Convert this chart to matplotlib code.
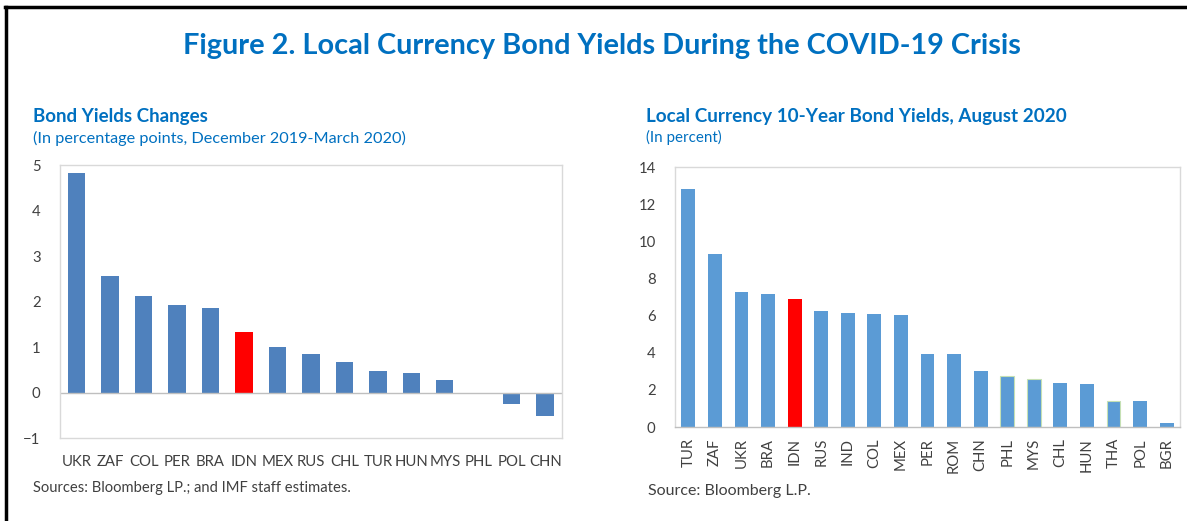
import matplotlib
matplotlib.use("Agg")
import matplotlib.pyplot as plt
from matplotlib.lines import Line2D

plt.rcParams['font.family'] = ['Lato', 'DejaVu Sans']

# Panel 1: change in yields, Dec 2019 - Mar 2020 (percentage points)
chg_countries = ['UKR', 'ZAF', 'COL', 'PER', 'BRA', 'IDN', 'MEX', 'RUS',
                 'CHL', 'TUR', 'HUN', 'MYS', 'PHL', 'POL', 'CHN']
chg_values = [4.83, 2.57, 2.12, 1.93, 1.85, 1.33, 0.99, 0.85,
              0.68, 0.47, 0.42, 0.28, -0.02, -0.26, -0.51]

# Panel 2: 10-year yields, August 2020 (percent)
lvl_countries = ['TUR', 'ZAF', 'UKR', 'BRA', 'IDN', 'RUS', 'IND', 'COL', 'MEX',
                 'PER', 'ROM', 'CHN', 'PHL', 'MYS', 'CHL', 'HUN', 'THA', 'POL', 'BGR']
lvl_values = [12.83, 9.30, 7.25, 7.16, 6.88, 6.27, 6.13, 6.09, 6.04,
              3.95, 3.91, 3.00, 2.73, 2.61, 2.36, 2.29, 1.38, 1.40, 0.23]

HIGHLIGHT = 'IDN'
TITLE_BLUE = '#0070C0'
TEXT_GRAY = '#404040'
FRAME_GRAY = '#D9D9D9'

fig = plt.figure(figsize=(11.87, 5.21), dpi=100)

# outer box (top and left edges)
fig.add_artist(Line2D([0.005, 0.005], [0.0, 0.986], color='black', lw=2.5,
                      transform=fig.transFigure))
fig.add_artist(Line2D([0.004, 1.0], [0.986, 0.986], color='black', lw=2.5,
                      transform=fig.transFigure))

fig.text(0.507, 0.912, 'Figure 2. Local Currency Bond Yields During the COVID-19 Crisis',
         ha='center', va='center', fontsize=20.8, fontweight='bold', color=TITLE_BLUE)


def style_axes(ax):
    for sp in ax.spines.values():
        sp.set_color(FRAME_GRAY)
        sp.set_linewidth(1.0)
    ax.tick_params(length=0, colors=TEXT_GRAY, labelsize=10.7, pad=8)


# --- left panel ---
ax1 = fig.add_axes([0.0505, 0.1593, 0.4229, 0.524])
cols1 = ['#FF0000' if c == HIGHLIGHT else '#4F81BD' for c in chg_countries]
ax1.bar(range(len(chg_countries)), chg_values, width=0.52, color=cols1)
ax1.axhline(0, color='#BFBFBF', lw=1.0)
ax1.set_xlim(-0.5, len(chg_countries) - 0.5)
ax1.set_ylim(-1, 5)
ax1.set_yticks(range(-1, 6))
ax1.set_xticks(range(len(chg_countries)))
ax1.set_xticklabels(chg_countries)
style_axes(ax1)
ax1.tick_params(axis='y', pad=14)
ax1.tick_params(axis='x', pad=12)

fig.text(0.028, 0.777, 'Bond Yields Changes', fontsize=13.5, fontweight='bold',
         color=TITLE_BLUE, va='center')
fig.text(0.028, 0.735, '(In percentage points, December 2019-March 2020)',
         fontsize=11.7, color=TITLE_BLUE, va='center')
fig.text(0.028, 0.063, 'Sources: Bloomberg LP.; and IMF staff estimates.',
         fontsize=10.6, color=TEXT_GRAY, va='center')

# --- right panel ---
ax2 = fig.add_axes([0.5687, 0.1804, 0.4254, 0.499])
cols2 = ['#FF0000' if c == HIGHLIGHT else '#5B9BD5' for c in lvl_countries]
bars = ax2.bar(range(len(lvl_countries)), lvl_values, width=0.52, color=cols2)
for b, c in zip(bars, lvl_countries):
    if c in ('PHL', 'MYS', 'THA'):
        b.set_edgecolor('#C5E0B4')
        b.set_linewidth(0.8)
ax2.set_xlim(-0.5, len(lvl_countries) - 0.5)
ax2.set_ylim(0, 14)
ax2.set_yticks(range(0, 15, 2))
ax2.set_xticks(range(len(lvl_countries)))
ax2.set_xticklabels(lvl_countries, rotation=90)
style_axes(ax2)
ax2.spines['bottom'].set_color('#BFBFBF')
ax2.tick_params(axis='y', pad=14)

fig.text(0.544, 0.777, 'Local Currency 10-Year Bond Yields, August 2020', fontsize=13.6,
         fontweight='bold', color=TITLE_BLUE, va='center')
fig.text(0.544, 0.737, '(In percent)', fontsize=10.9, color=TITLE_BLUE, va='center')
fig.text(0.546, 0.057, 'Source: Bloomberg L.P.', fontsize=11.5, color=TEXT_GRAY,
         va='center')

fig.savefig('out.png', dpi=100)
